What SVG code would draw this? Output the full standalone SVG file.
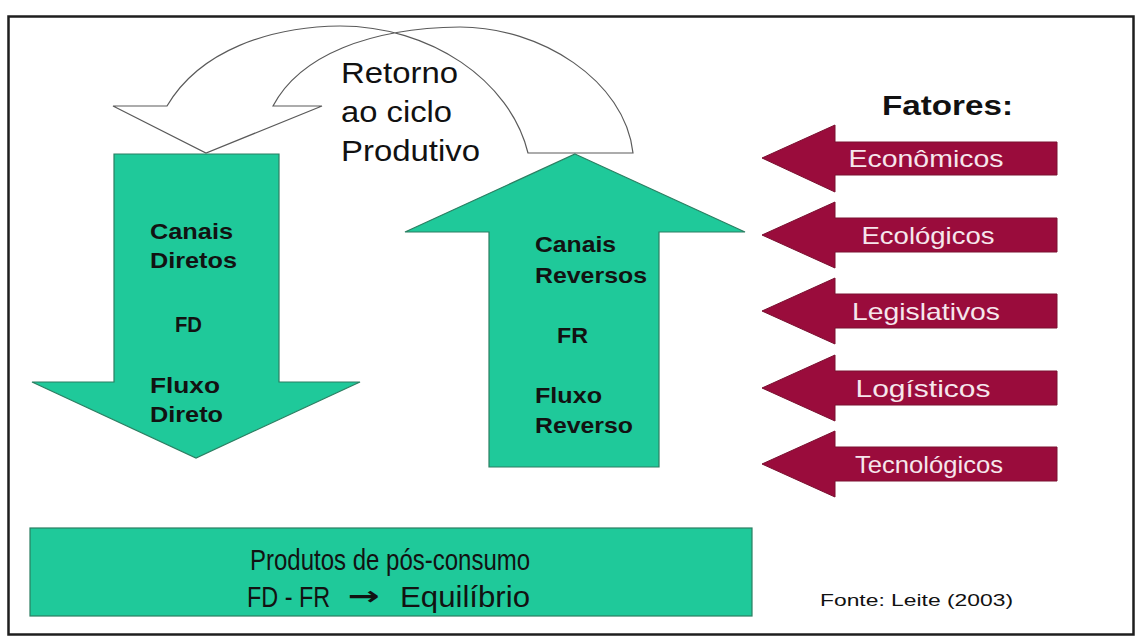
<svg xmlns="http://www.w3.org/2000/svg" width="1142" height="644" viewBox="0 0 1142 644">
  <style>
    .g { fill: #1fc99a; stroke: #2b7f62; stroke-width: 1.2; }
    .r { fill: #9a0c3c; stroke: #7a1030; stroke-width: 1; }
    .gt { font-family: "Liberation Sans", Arial, sans-serif; font-weight: bold; font-size: 22px; fill: #121212; }
    .rt { font-family: "Liberation Sans", Arial, sans-serif; font-size: 24px; fill: #f6e6ec; text-anchor: middle; }
    .bt { font-family: "Liberation Sans", Arial, sans-serif; font-size: 30px; fill: #121212; }
    .ct { font-family: "Liberation Sans", Arial, sans-serif; font-size: 29px; fill: #111; }
  </style>
  <rect x="0" y="0" width="1142" height="644" fill="#ffffff"/>
  <rect id="frame" x="8.5" y="16.5" width="1125" height="618" fill="none" stroke="#1e1e1e" stroke-width="2.5"/>

  <g id="connectors">
    <path id="retorno-arrow" d="M167,106 L113,106 L206,153 L322,106 L273,106 C300,55 370,28 460,27 C540,27 625,80 633,153 L528,153 C510,80 430,26 340,26 C270,27 200,50 167,106 Z" fill="#ffffff" stroke="#5a5a5a" stroke-width="1.2"/>
  </g>

  <g id="retorno-label">
    <text class="ct" x="341" y="83" textLength="117" lengthAdjust="spacingAndGlyphs">Retorno</text>
    <text class="ct" x="341" y="122" textLength="111" lengthAdjust="spacingAndGlyphs">ao ciclo</text>
    <text class="ct" x="341" y="161" textLength="139" lengthAdjust="spacingAndGlyphs">Produtivo</text>
  </g>

  <g id="fluxo-direto">
    <path class="g" d="M114,154 L279,154 L279,382 L360,382 L196,458 L32,382 L114,382 Z"/>
    <text class="gt" x="150" y="239" textLength="83" lengthAdjust="spacingAndGlyphs">Canais</text>
    <text class="gt" x="150" y="268" textLength="87" lengthAdjust="spacingAndGlyphs">Diretos</text>
    <text class="gt" x="175" y="332" textLength="27" lengthAdjust="spacingAndGlyphs">FD</text>
    <text class="gt" x="150" y="393" textLength="70" lengthAdjust="spacingAndGlyphs">Fluxo</text>
    <text class="gt" x="150" y="422" textLength="73" lengthAdjust="spacingAndGlyphs">Direto</text>
  </g>

  <g id="fluxo-reverso">
    <path class="g" d="M575,154 L745,232 L659,232 L659,467 L489,467 L489,232 L405,232 Z"/>
    <text class="gt" x="535" y="252" textLength="81" lengthAdjust="spacingAndGlyphs">Canais</text>
    <text class="gt" x="535" y="283" textLength="112" lengthAdjust="spacingAndGlyphs">Reversos</text>
    <text class="gt" x="557" y="343" textLength="31" lengthAdjust="spacingAndGlyphs">FR</text>
    <text class="gt" x="535" y="403" textLength="67" lengthAdjust="spacingAndGlyphs">Fluxo</text>
    <text class="gt" x="535" y="433" textLength="98" lengthAdjust="spacingAndGlyphs">Reverso</text>
  </g>

  <g id="fatores-title">
    <text x="882" y="115" font-family="'Liberation Sans', Arial, sans-serif" font-weight="bold" font-size="28" fill="#111" textLength="131" lengthAdjust="spacingAndGlyphs">Fatores:</text>
  </g>

  <g id="fator-economicos">
    <path class="r" d="M762,158 L835,125 L835,142 L1057,142 L1057,175 L835,175 L835,192 Z"/>
    <text class="rt" x="926" y="167" textLength="155" lengthAdjust="spacingAndGlyphs">Econômicos</text>
  </g>
  <g id="fator-ecologicos">
    <path class="r" d="M762,235 L835,202 L835,218 L1057,218 L1057,252 L835,252 L835,268 Z"/>
    <text class="rt" x="928" y="244" textLength="133" lengthAdjust="spacingAndGlyphs">Ecológicos</text>
  </g>
  <g id="fator-legislativos">
    <path class="r" d="M762,311 L835,278 L835,294 L1057,294 L1057,328 L835,328 L835,344 Z"/>
    <text class="rt" x="926" y="320" textLength="148" lengthAdjust="spacingAndGlyphs">Legislativos</text>
  </g>
  <g id="fator-logisticos">
    <path class="r" d="M762,388 L835,355 L835,371 L1057,371 L1057,405 L835,405 L835,421 Z"/>
    <text class="rt" x="923" y="397" textLength="135" lengthAdjust="spacingAndGlyphs">Logísticos</text>
  </g>
  <g id="fator-tecnologicos">
    <path class="r" d="M762,464 L835,431 L835,447 L1057,447 L1057,481 L835,481 L835,497 Z"/>
    <text class="rt" x="929" y="473" textLength="148" lengthAdjust="spacingAndGlyphs">Tecnológicos</text>
  </g>

  <g id="pos-consumo">
    <rect class="g" x="30" y="528" width="722" height="88"/>
    <text class="bt" transform="translate(250,570) scale(0.8,1)">Produtos de pós-consumo</text>
    <text class="bt" transform="translate(247,607) scale(0.78,1)">FD - FR</text>
    <text x="348" y="605" font-family="'DejaVu Sans', sans-serif" font-size="26" font-weight="bold" fill="#121212" textLength="32" lengthAdjust="spacingAndGlyphs">→</text>
    <text class="bt" x="400" y="607" textLength="130" lengthAdjust="spacingAndGlyphs">Equilíbrio</text>
  </g>

  <g id="fonte">
    <text x="820" y="606" font-family="'Liberation Sans', Arial, sans-serif" font-size="17" fill="#111" textLength="193" lengthAdjust="spacingAndGlyphs">Fonte: Leite (2003)</text>
  </g>
</svg>
